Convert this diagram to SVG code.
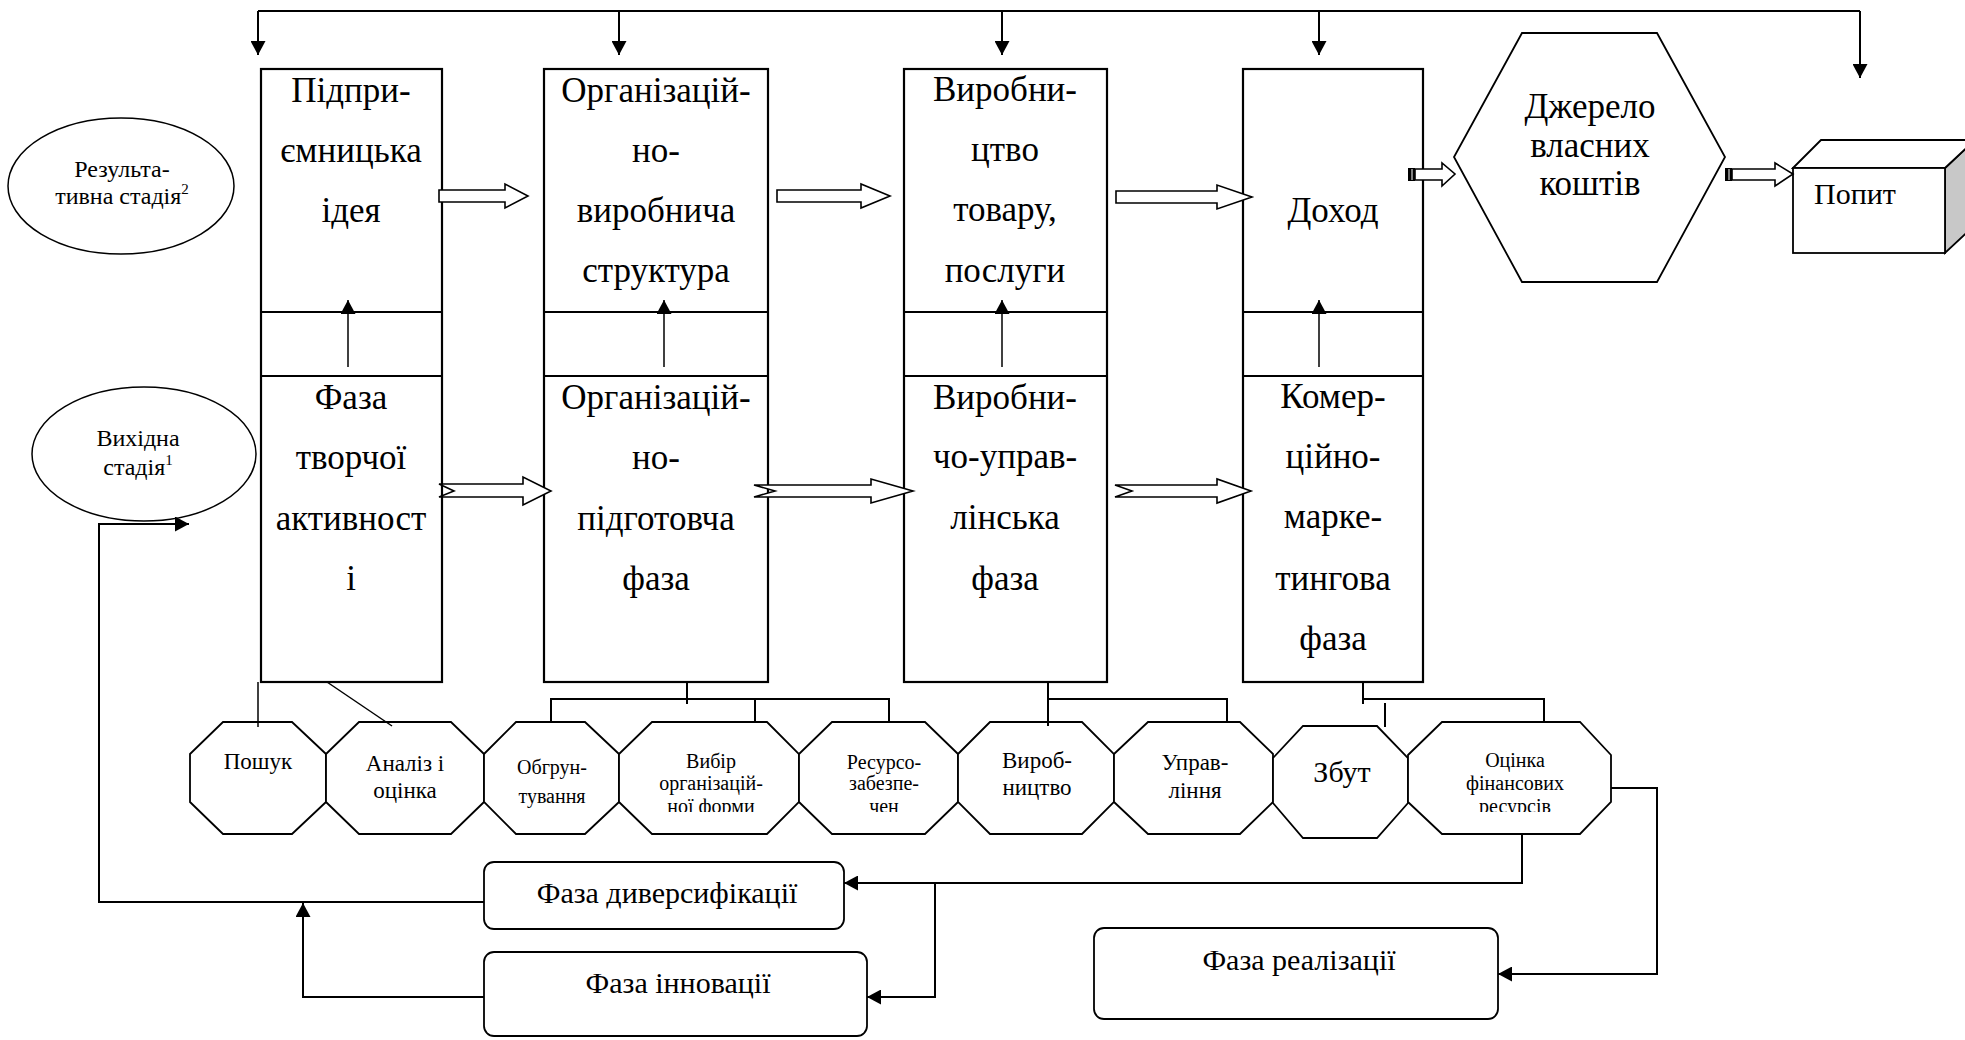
<svg xmlns="http://www.w3.org/2000/svg" width="1965" height="1040" viewBox="0 0 1965 1040">
<style>
text{font-family:"Liberation Serif","Times New Roman",serif;fill:#000;text-anchor:middle}
.big{font-size:35px}
.mid{font-size:30px}
.oct{font-size:23px}
.sm{font-size:20px}
.ell{font-size:24px}
.sup{font-size:15px}
.box{fill:#fff;stroke:#000;stroke-width:2.2}
.shape{fill:#fff;stroke:#000;stroke-width:1.8}
.ln{fill:none;stroke:#000;stroke-width:2}
.thin{fill:none;stroke:#000;stroke-width:1.5}
.hol{fill:#fff;stroke:#000;stroke-width:1.6;stroke-linejoin:miter}
</style>
<defs>
<marker id="ah" markerUnits="userSpaceOnUse" markerWidth="15" markerHeight="15" refX="14" refY="7.5" orient="auto">
<path d="M0,0 L14,7.5 L0,15 z" fill="#000"/>
</marker>
<clipPath id="c3"><rect x="0" y="740" width="1965" height="72"/></clipPath>
</defs>

<!-- stage boxes -->
<g id="box1">
<rect class="box" x="261" y="69" width="181" height="613"/>
<line class="ln" x1="261" y1="312" x2="442" y2="312"/>
<line class="ln" x1="261" y1="376" x2="442" y2="376"/>
<text class="big" x="351" y="102">Підпри-</text>
<text class="big" x="351" y="162">ємницька</text>
<text class="big" x="351" y="222">ідея</text>
<text class="big" x="351" y="409">Фаза</text>
<text class="big" x="351" y="469">творчої</text>
<text class="big" x="351" y="530">активност</text>
<text class="big" x="351" y="590">і</text>
</g>
<g id="box2">
<rect class="box" x="544" y="69" width="224" height="613"/>
<line class="ln" x1="544" y1="312" x2="768" y2="312"/>
<line class="ln" x1="544" y1="376" x2="768" y2="376"/>
<text class="big" x="656" y="102">Організацій-</text>
<text class="big" x="656" y="162">но-</text>
<text class="big" x="656" y="222">виробнича</text>
<text class="big" x="656" y="282">структура</text>
<text class="big" x="656" y="409">Організацій-</text>
<text class="big" x="656" y="469">но-</text>
<text class="big" x="656" y="530">підготовча</text>
<text class="big" x="656" y="590">фаза</text>
</g>
<g id="box3">
<rect class="box" x="904" y="69" width="203" height="613"/>
<line class="ln" x1="904" y1="312" x2="1107" y2="312"/>
<line class="ln" x1="904" y1="376" x2="1107" y2="376"/>
<text class="big" x="1005" y="101">Виробни-</text>
<text class="big" x="1005" y="161">цтво</text>
<text class="big" x="1005" y="221">товару,</text>
<text class="big" x="1005" y="282">послуги</text>
<text class="big" x="1005" y="409">Виробни-</text>
<text class="big" x="1005" y="468">чо-управ-</text>
<text class="big" x="1005" y="529">лінська</text>
<text class="big" x="1005" y="590">фаза</text>
</g>
<g id="box4">
<rect class="box" x="1243" y="69" width="180" height="613"/>
<line class="ln" x1="1243" y1="312" x2="1423" y2="312"/>
<line class="ln" x1="1243" y1="376" x2="1423" y2="376"/>
<text class="big" x="1333" y="222">Доход</text>
<text class="big" x="1333" y="408">Комер-</text>
<text class="big" x="1333" y="468">ційно-</text>
<text class="big" x="1333" y="528">марке-</text>
<text class="big" x="1333" y="590">тингова</text>
<text class="big" x="1333" y="650">фаза</text>
</g>

<g id="source">
<polygon class="shape" points="1522,33 1657,33 1725,157 1657,282 1522,282 1454,157"/>
<text class="big" x="1590" y="118">Джерело</text>
<text class="big" x="1590" y="157">власних</text>
<text class="big" x="1590" y="195">коштів</text>
</g>
<g id="demand">
<polygon points="1945,168 1975,140 1975,225 1945,253" fill="#c8c8c8" stroke="#000" stroke-width="1.8"/>
<polygon class="shape" points="1793,168 1821,140 1975,140 1945,168"/>
<rect class="shape" x="1793" y="168" width="152" height="85"/>
<text class="mid" x="1855" y="204">Попит</text>
</g>

<g id="stage-result">
<ellipse class="thin" cx="121" cy="186" rx="113" ry="68"/>
<text class="ell" x="122" y="177">Результа-</text>
<text class="ell" x="122" y="204">тивна стадія<tspan class="sup" dy="-10">2</tspan></text>
</g>
<g id="stage-initial">
<ellipse class="thin" cx="144" cy="454" rx="112" ry="67"/>
<text class="ell" x="138" y="446">Вихідна</text>
<text class="ell" x="138" y="475">стадія<tspan class="sup" dy="-10">1</tspan></text>
</g>

<!-- octagons -->
<g id="oct-search">
<polygon class="shape" points="190,754 223,722 292,722 326,754 326,802 292,834 223,834 190,802"/>
<text class="oct" x="258" y="769">Пошук</text>
</g>
<g id="oct-analysis">
<polygon class="shape" points="326,754 359,722 451,722 484,754 484,802 451,834 359,834 326,802"/>
<text class="oct" x="405" y="771">Аналіз і</text>
<text class="oct" x="405" y="798">оцінка</text>
</g>
<g id="oct-justify">
<polygon class="shape" points="484,754 516,722 585,722 619,754 619,802 585,834 516,834 484,802"/>
<text class="sm" x="552" y="774">Обгрун-</text>
<text class="sm" x="552" y="803">тування</text>
</g>
<g id="oct-form">
<polygon class="shape" points="619,754 652,722 767,722 799,754 799,802 767,834 652,834 619,802"/>
<text class="sm" x="711" y="768">Вибір</text>
<text class="sm" x="711" y="790">організацій-</text>
<text class="sm" x="711" y="813" clip-path="url(#c3)">ної форми</text>
</g>
<g id="oct-resource">
<polygon class="shape" points="799,754 832,722 925,722 958,754 958,802 925,834 832,834 799,802"/>
<text class="sm" x="884" y="769">Ресурсо-</text>
<text class="sm" x="884" y="790">забезпе-</text>
<text class="sm" x="884" y="813" clip-path="url(#c3)">чен</text>
</g>
<g id="oct-production">
<polygon class="shape" points="958,754 990,722 1082,722 1114,754 1114,802 1082,834 990,834 958,802"/>
<text class="oct" x="1037" y="768">Вироб-</text>
<text class="oct" x="1037" y="795">ництво</text>
</g>
<g id="oct-management">
<polygon class="shape" points="1114,754 1148,722 1240,722 1273,754 1273,802 1240,834 1148,834 1114,802"/>
<text class="oct" x="1195" y="770">Управ-</text>
<text class="oct" x="1195" y="798">ління</text>
</g>
<g id="oct-sales">
<polygon class="shape" points="1273,758 1303,726 1377,726 1408,758 1408,803 1377,838 1303,838 1273,803"/>
<text class="mid" x="1342" y="782">Збут</text>
</g>
<g id="oct-finance">
<polygon class="shape" points="1408,755 1442,722 1580,722 1611,755 1611,802 1580,834 1442,834 1408,802"/>
<text class="sm" x="1515" y="767">Оцінка</text>
<text class="sm" x="1515" y="790">фінансових</text>
<text class="sm" x="1515" y="813" clip-path="url(#c3)">ресурсів</text>
</g>

<!-- phase boxes -->
<g id="phase-diversification">
<rect class="shape" x="484" y="862" width="360" height="67" rx="10"/>
<text class="mid" x="667" y="903">Фаза диверсифікації</text>
</g>
<g id="phase-innovation">
<rect class="shape" x="484" y="952" width="383" height="84" rx="10"/>
<text class="mid" x="678" y="993">Фаза інновації</text>
</g>
<g id="phase-realization">
<rect class="shape" x="1094" y="928" width="404" height="91" rx="10"/>
<text class="mid" x="1299" y="970">Фаза реалізації</text>
</g>

<g id="connectors">
<!-- top distribution line -->
<polyline class="ln" points="258,11 1860,11"/>
<line class="ln" x1="258" y1="11" x2="258" y2="55" marker-end="url(#ah)"/>
<line class="ln" x1="619" y1="11" x2="619" y2="55" marker-end="url(#ah)"/>
<line class="ln" x1="1002" y1="11" x2="1002" y2="55" marker-end="url(#ah)"/>
<line class="ln" x1="1319" y1="11" x2="1319" y2="55" marker-end="url(#ah)"/>
<line class="ln" x1="1860" y1="11" x2="1860" y2="78" marker-end="url(#ah)"/>
<!-- up arrows inside boxes -->
<line class="thin" x1="348" y1="367" x2="348" y2="300" marker-end="url(#ah)"/>
<line class="thin" x1="664" y1="367" x2="664" y2="300" marker-end="url(#ah)"/>
<line class="thin" x1="1002" y1="367" x2="1002" y2="300" marker-end="url(#ah)"/>
<line class="thin" x1="1319" y1="367" x2="1319" y2="300" marker-end="url(#ah)"/>
<!-- hollow block arrows, upper row -->
<polygon class="hol" points="439,190 505,190 505,184 528,196 505,208 505,202 439,202"/>
<polygon class="hol" points="777,190 861,190 861,184 890,196 861,208 861,202 777,202"/>
<polygon class="hol" points="1116,191 1217,191 1217,185 1252,197 1217,209 1217,203 1116,203"/>
<!-- hollow notched arrows, lower row -->
<polygon class="hol" points="439,484 523,484 523,477 551,491 523,505 523,497 439,497 454,491"/>
<polygon class="hol" points="754,485 871,485 871,479 913,491 871,503 871,497 754,497 775,491"/>
<polygon class="hol" points="1115,485 1217,485 1217,479 1251,491 1217,503 1217,497 1115,497 1132,491"/>
<!-- striped-tail arrows -->
<rect x="1408" y="168" width="7" height="13" fill="#000"/>
<line x1="1412" y1="169" x2="1412" y2="180" stroke="#fff" stroke-width="1"/>
<polygon class="hol" points="1415,169 1442,169 1442,163 1455,174 1442,186 1442,180 1415,180"/>
<rect x="1725" y="168" width="7" height="13" fill="#000"/>
<line x1="1729" y1="169" x2="1729" y2="180" stroke="#fff" stroke-width="1"/>
<polygon class="hol" points="1732,169 1775,169 1775,163 1793,174 1775,186 1775,180 1732,180"/>
<!-- box 1 children -->
<line class="thin" x1="258" y1="682" x2="258" y2="727"/>
<line class="thin" x1="327" y1="682" x2="392" y2="726"/>
<!-- box 2 children -->
<line class="ln" x1="687" y1="682" x2="687" y2="704"/>
<polyline class="ln" points="551,722 551,699 889,699 889,722"/>
<line class="ln" x1="755" y1="699" x2="755" y2="722"/>
<!-- box 3 children -->
<line class="ln" x1="1048" y1="682" x2="1048" y2="726"/>
<polyline class="ln" points="1048,699 1227,699 1227,722"/>
<!-- box 4 children -->
<line class="ln" x1="1363" y1="682" x2="1363" y2="704"/>
<polyline class="ln" points="1363,699 1544,699 1544,722"/>
<line class="ln" x1="1385" y1="703" x2="1385" y2="727"/>
<!-- finance to phases -->
<polyline class="ln" points="1522,834 1522,883 844,883" marker-end="url(#ah)"/>
<polyline class="ln" points="935,883 935,997 867,997" marker-end="url(#ah)"/>
<polyline class="ln" points="1611,788 1657,788 1657,974 1498,974" marker-end="url(#ah)"/>
<!-- feedback to initial stage -->
<polyline class="ln" points="484,902 99,902 99,524 189,524" marker-end="url(#ah)"/>
<polyline class="ln" points="484,997 303,997 303,903" marker-end="url(#ah)"/>
</g>
</svg>
